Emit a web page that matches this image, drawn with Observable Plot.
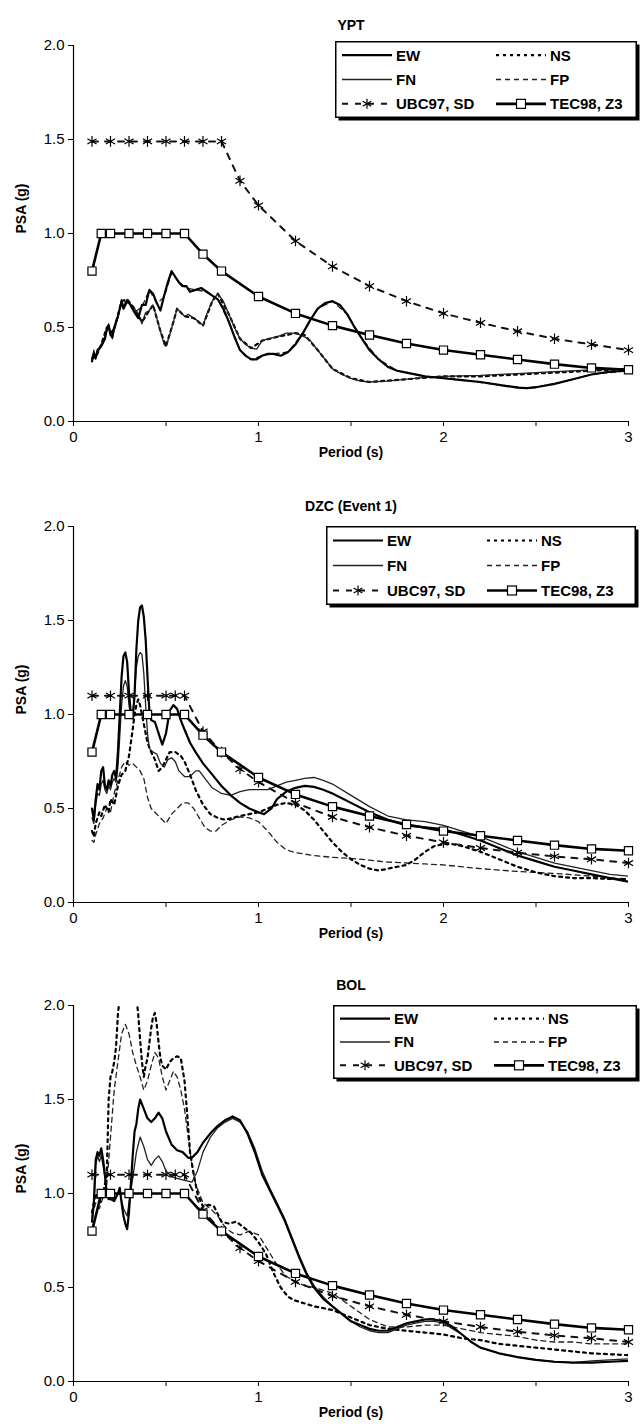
<!DOCTYPE html>
<html><head><meta charset="utf-8">
<script src="https://cdn.jsdelivr.net/npm/d3@7"></script>
<script src="https://cdn.jsdelivr.net/npm/@observablehq/plot@0.6"></script>
<style>
body{margin:0;background:#fff;font-family:"Liberation Sans",Arial,sans-serif;}
#wrap{position:relative;width:643px;height:1426px;overflow:hidden;background:#fff;}
.panel{position:absolute;left:0;}
.legend{position:absolute;}
</style></head><body><div id="wrap"></div>
<script>
// ---------- DATA: [period (s), PSA (g)] ----------
const TEC98_Z3 = [[0.1,0.80],[0.15,1.00],[0.2,1.00],[0.3,1.00],[0.4,1.00],[0.5,1.00],[0.6,1.00],[0.7,0.89],[0.8,0.80],[1.0,0.665],[1.2,0.575],[1.4,0.51],[1.6,0.46],[1.8,0.415],[2.0,0.38],[2.2,0.355],[2.4,0.33],[2.6,0.305],[2.8,0.285],[3.0,0.275]];
const UBC97_SD_YPT = [[0.1,1.49],[0.2,1.49],[0.3,1.49],[0.4,1.49],[0.5,1.49],[0.6,1.49],[0.7,1.49],[0.8,1.49],[0.9,1.28],[1.0,1.15],[1.2,0.96],[1.4,0.825],[1.6,0.72],[1.8,0.64],[2.0,0.575],[2.2,0.525],[2.4,0.48],[2.6,0.44],[2.8,0.41],[3.0,0.38]];
const UBC97_SD_DZC_BOL = [[0.1,1.10],[0.2,1.10],[0.3,1.10],[0.4,1.10],[0.5,1.10],[0.55,1.10],[0.6,1.10],[0.7,0.91],[0.8,0.80],[0.9,0.71],[1.0,0.64],[1.2,0.53],[1.4,0.455],[1.6,0.40],[1.8,0.355],[2.0,0.32],[2.2,0.29],[2.4,0.265],[2.6,0.245],[2.8,0.23],[3.0,0.21]];

const YPT_EW = [[0.10,0.32],[0.11,0.36],[0.12,0.34],[0.13,0.38],[0.15,0.40],[0.17,0.44],[0.18,0.49],[0.19,0.51],[0.20,0.46],[0.21,0.45],[0.22,0.50],[0.24,0.56],[0.26,0.64],[0.27,0.60],[0.29,0.64],[0.31,0.62],[0.33,0.58],[0.35,0.55],[0.37,0.62],[0.39,0.62],[0.41,0.70],[0.43,0.68],[0.45,0.63],[0.47,0.59],[0.49,0.67],[0.51,0.74],[0.53,0.80],[0.55,0.77],[0.57,0.74],[0.59,0.72],[0.61,0.72],[0.63,0.69],[0.66,0.70],[0.69,0.71],[0.72,0.69],[0.75,0.67],[0.78,0.65],[0.81,0.60],[0.84,0.53],[0.87,0.45],[0.90,0.38],[0.93,0.35],[0.96,0.33],[0.99,0.33],[1.02,0.35],[1.05,0.36],[1.08,0.36],[1.12,0.35],[1.16,0.37],[1.20,0.41],[1.24,0.47],[1.28,0.54],[1.32,0.60],[1.36,0.63],[1.40,0.64],[1.44,0.62],[1.48,0.57],[1.52,0.50],[1.56,0.44],[1.60,0.38],[1.65,0.33],[1.70,0.29],[1.75,0.27],[1.80,0.26],[1.90,0.24],[2.00,0.23],[2.10,0.22],[2.20,0.21],[2.30,0.195],[2.40,0.18],[2.45,0.178],[2.50,0.182],[2.60,0.20],[2.70,0.225],[2.80,0.25],[2.90,0.265],[3.00,0.27]];
const YPT_FP = [[0.10,0.33],[0.12,0.35],[0.15,0.40],[0.18,0.48],[0.20,0.47],[0.22,0.50],[0.26,0.63],[0.29,0.64],[0.33,0.58],[0.37,0.61],[0.41,0.70],[0.45,0.63],[0.49,0.66],[0.53,0.79],[0.57,0.74],[0.61,0.71],[0.66,0.70],[0.72,0.69],[0.78,0.65],[0.84,0.53],[0.90,0.38],[0.96,0.33],[1.02,0.35],[1.08,0.36],[1.16,0.37],[1.24,0.47],[1.32,0.60],[1.40,0.64],[1.48,0.57],[1.56,0.44],[1.65,0.33],[1.75,0.27],[1.90,0.24],[2.10,0.22],[2.30,0.195],[2.45,0.178],[2.60,0.20],[2.80,0.25],[3.00,0.27]];
const YPT_FN = [[0.10,0.33],[0.11,0.38],[0.12,0.33],[0.13,0.37],[0.15,0.41],[0.17,0.45],[0.18,0.50],[0.19,0.52],[0.20,0.47],[0.21,0.44],[0.22,0.49],[0.24,0.55],[0.26,0.65],[0.27,0.61],[0.29,0.65],[0.31,0.61],[0.33,0.60],[0.35,0.57],[0.37,0.52],[0.39,0.58],[0.41,0.59],[0.43,0.62],[0.45,0.55],[0.47,0.48],[0.49,0.41],[0.50,0.40],[0.52,0.46],[0.54,0.53],[0.56,0.60],[0.58,0.58],[0.60,0.56],[0.62,0.57],[0.65,0.55],[0.68,0.53],[0.70,0.51],[0.72,0.57],[0.75,0.64],[0.78,0.68],[0.81,0.64],[0.84,0.57],[0.87,0.50],[0.90,0.44],[0.93,0.41],[0.96,0.39],[0.99,0.385],[1.02,0.43],[1.05,0.44],[1.10,0.45],[1.15,0.47],[1.20,0.47],[1.25,0.45],[1.28,0.43],[1.32,0.38],[1.36,0.33],[1.40,0.28],[1.45,0.25],[1.50,0.23],[1.55,0.215],[1.60,0.21],[1.70,0.215],[1.80,0.225],[1.90,0.235],[2.00,0.24],[2.20,0.245],[2.40,0.255],[2.60,0.265],[2.80,0.275],[3.00,0.28]];
const YPT_NS = [[0.10,0.34],[0.12,0.34],[0.15,0.41],[0.18,0.50],[0.20,0.47],[0.22,0.49],[0.26,0.64],[0.29,0.65],[0.33,0.60],[0.37,0.53],[0.41,0.59],[0.43,0.62],[0.47,0.48],[0.50,0.40],[0.54,0.53],[0.56,0.60],[0.60,0.56],[0.65,0.55],[0.70,0.51],[0.75,0.64],[0.78,0.68],[0.84,0.57],[0.90,0.44],[0.96,0.39],[1.02,0.43],[1.10,0.45],[1.20,0.47],[1.25,0.46],[1.32,0.38],[1.40,0.28],[1.50,0.23],[1.60,0.21],[1.80,0.225],[2.00,0.24],[2.20,0.24],[2.40,0.25],[2.60,0.26],[2.80,0.27],[3.00,0.28]];

const DZC_EW = [[0.10,0.50],[0.11,0.44],[0.12,0.55],[0.13,0.63],[0.14,0.60],[0.15,0.70],[0.16,0.72],[0.17,0.62],[0.18,0.60],[0.19,0.65],[0.20,0.62],[0.21,0.68],[0.22,0.70],[0.23,0.66],[0.24,0.80],[0.25,1.00],[0.26,1.20],[0.27,1.31],[0.28,1.33],[0.29,1.28],[0.30,1.12],[0.31,1.00],[0.32,0.98],[0.33,1.10],[0.34,1.35],[0.35,1.50],[0.36,1.57],[0.37,1.58],[0.38,1.52],[0.39,1.40],[0.40,1.20],[0.41,1.02],[0.42,0.97],[0.44,0.96],[0.46,0.90],[0.48,0.84],[0.50,0.90],[0.52,1.02],[0.54,1.05],[0.56,1.03],[0.58,0.97],[0.60,0.92],[0.63,0.85],[0.66,0.80],[0.70,0.74],[0.75,0.68],[0.80,0.62],[0.85,0.57],[0.90,0.53],[0.95,0.50],[1.00,0.48],[1.03,0.47],[1.07,0.50],[1.10,0.55],[1.15,0.59],[1.20,0.61],[1.25,0.62],[1.30,0.615],[1.35,0.60],[1.40,0.58],[1.50,0.53],[1.60,0.48],[1.70,0.44],[1.80,0.41],[1.90,0.40],[2.00,0.39],[2.10,0.36],[2.20,0.33],[2.30,0.29],[2.40,0.25],[2.50,0.22],[2.60,0.19],[2.70,0.17],[2.80,0.15],[2.90,0.13],[3.00,0.11]];
const DZC_FN = [[0.10,0.45],[0.11,0.42],[0.12,0.52],[0.13,0.58],[0.14,0.57],[0.15,0.63],[0.16,0.65],[0.17,0.60],[0.18,0.58],[0.19,0.62],[0.20,0.60],[0.21,0.64],[0.22,0.66],[0.23,0.64],[0.24,0.72],[0.25,0.88],[0.26,1.05],[0.27,1.15],[0.28,1.18],[0.29,1.15],[0.30,1.05],[0.31,0.98],[0.32,1.00],[0.33,1.12],[0.34,1.25],[0.35,1.31],[0.36,1.33],[0.37,1.32],[0.38,1.22],[0.39,1.05],[0.40,0.90],[0.41,0.82],[0.43,0.80],[0.45,0.79],[0.47,0.74],[0.49,0.72],[0.51,0.76],[0.53,0.77],[0.55,0.75],[0.57,0.70],[0.60,0.67],[0.63,0.67],[0.66,0.70],[0.68,0.70],[0.71,0.66],[0.75,0.61],[0.80,0.58],[0.85,0.57],[0.90,0.59],[0.95,0.60],[1.00,0.60],[1.05,0.60],[1.10,0.62],[1.15,0.64],[1.20,0.65],[1.25,0.66],[1.30,0.665],[1.35,0.65],[1.40,0.63],[1.50,0.57],[1.60,0.51],[1.70,0.46],[1.80,0.44],[1.90,0.43],[2.00,0.41],[2.10,0.38],[2.20,0.35],[2.30,0.31],[2.40,0.27],[2.50,0.24],[2.60,0.21],[2.70,0.19],[2.80,0.17],[2.90,0.15],[3.00,0.14]];
const DZC_NS = [[0.10,0.38],[0.11,0.35],[0.12,0.42],[0.14,0.48],[0.15,0.46],[0.17,0.52],[0.19,0.48],[0.20,0.55],[0.22,0.52],[0.24,0.62],[0.26,0.68],[0.28,0.70],[0.30,0.78],[0.32,0.92],[0.33,1.00],[0.34,1.05],[0.35,1.08],[0.36,1.05],[0.38,0.95],[0.40,0.85],[0.42,0.80],[0.44,0.76],[0.46,0.70],[0.48,0.72],[0.50,0.76],[0.52,0.80],[0.55,0.80],[0.58,0.78],[0.60,0.75],[0.63,0.68],[0.66,0.60],[0.70,0.52],[0.74,0.47],[0.78,0.45],[0.82,0.44],[0.86,0.45],[0.90,0.46],[0.95,0.47],[1.00,0.48],[1.05,0.50],[1.10,0.52],[1.15,0.53],[1.20,0.52],[1.25,0.49],[1.30,0.44],[1.35,0.38],[1.40,0.32],[1.45,0.27],[1.50,0.23],[1.55,0.20],[1.60,0.18],[1.65,0.17],[1.70,0.18],[1.80,0.20],[1.85,0.23],[1.90,0.27],[1.95,0.30],[2.00,0.31],[2.05,0.31],[2.10,0.30],[2.20,0.27],[2.30,0.23],[2.40,0.19],[2.50,0.16],[2.60,0.14],[2.70,0.13],[2.80,0.13],[2.90,0.125],[3.00,0.125]];
const DZC_FP = [[0.10,0.33],[0.11,0.32],[0.12,0.36],[0.14,0.42],[0.16,0.45],[0.18,0.50],[0.20,0.48],[0.22,0.58],[0.24,0.65],[0.26,0.72],[0.28,0.75],[0.30,0.73],[0.32,0.74],[0.34,0.72],[0.36,0.70],[0.38,0.66],[0.40,0.56],[0.42,0.50],[0.44,0.48],[0.46,0.46],[0.48,0.44],[0.50,0.42],[0.53,0.47],[0.56,0.50],[0.59,0.53],[0.62,0.53],[0.65,0.50],[0.68,0.45],[0.71,0.40],[0.74,0.38],[0.77,0.38],[0.80,0.41],[0.85,0.44],[0.90,0.455],[0.95,0.45],[1.00,0.43],[1.05,0.38],[1.10,0.32],[1.15,0.28],[1.20,0.265],[1.30,0.25],[1.40,0.24],[1.50,0.235],[1.60,0.225],[1.70,0.215],[1.80,0.21],[1.90,0.205],[2.00,0.20],[2.20,0.18],[2.40,0.165],[2.60,0.155],[2.80,0.14],[3.00,0.125]];

const BOL_EW = [[0.10,0.85],[0.11,0.95],[0.12,1.18],[0.13,1.22],[0.14,1.20],[0.15,1.24],[0.16,1.18],[0.17,1.10],[0.18,1.00],[0.19,0.97],[0.20,0.97],[0.22,0.96],[0.24,1.00],[0.25,1.03],[0.26,0.95],[0.27,0.88],[0.28,0.84],[0.29,0.81],[0.30,0.90],[0.31,1.05],[0.32,1.20],[0.33,1.33],[0.34,1.37],[0.35,1.45],[0.36,1.50],[0.38,1.45],[0.40,1.40],[0.42,1.38],[0.44,1.40],[0.46,1.43],[0.48,1.40],[0.50,1.33],[0.53,1.26],[0.56,1.23],[0.59,1.22],[0.62,1.19],[0.64,1.19],[0.67,1.22],[0.70,1.27],[0.74,1.32],[0.78,1.36],[0.82,1.39],[0.86,1.41],[0.90,1.39],[0.94,1.32],[0.98,1.22],[1.02,1.10],[1.06,1.02],[1.10,0.94],[1.14,0.86],[1.18,0.76],[1.22,0.66],[1.26,0.57],[1.30,0.50],[1.35,0.44],[1.40,0.40],[1.45,0.36],[1.50,0.32],[1.55,0.30],[1.60,0.28],[1.65,0.27],[1.70,0.27],[1.75,0.29],[1.80,0.31],[1.85,0.32],[1.90,0.33],[1.95,0.33],[2.00,0.32],[2.05,0.29],[2.10,0.25],[2.15,0.21],[2.20,0.18],[2.30,0.15],[2.40,0.13],[2.50,0.115],[2.60,0.105],[2.70,0.10],[2.80,0.10],[2.90,0.105],[3.00,0.11]];
const BOL_FN = [[0.10,0.85],[0.11,0.93],[0.12,1.15],[0.13,1.20],[0.14,1.17],[0.15,1.20],[0.16,1.15],[0.17,1.08],[0.18,1.00],[0.20,0.98],[0.22,0.97],[0.24,1.00],[0.25,1.02],[0.26,0.96],[0.27,0.92],[0.28,0.90],[0.29,0.88],[0.30,0.95],[0.32,1.08],[0.34,1.22],[0.36,1.30],[0.38,1.25],[0.40,1.18],[0.42,1.15],[0.44,1.18],[0.46,1.20],[0.48,1.17],[0.50,1.12],[0.53,1.09],[0.56,1.08],[0.60,1.07],[0.64,1.06],[0.67,1.12],[0.70,1.22],[0.74,1.30],[0.78,1.35],[0.82,1.38],[0.86,1.40],[0.90,1.38],[0.94,1.33],[0.98,1.24],[1.02,1.12],[1.06,1.03],[1.10,0.95],[1.14,0.87],[1.18,0.77],[1.22,0.67],[1.26,0.58],[1.30,0.51],[1.35,0.45],[1.40,0.40],[1.45,0.36],[1.50,0.32],[1.55,0.29],[1.60,0.27],[1.65,0.26],[1.70,0.26],[1.75,0.28],[1.80,0.30],[1.85,0.31],[1.90,0.32],[1.95,0.32],[2.00,0.31],[2.05,0.28],[2.10,0.25],[2.15,0.21],[2.20,0.18],[2.30,0.15],[2.40,0.13],[2.50,0.115],[2.60,0.105],[2.70,0.10],[2.80,0.11],[2.90,0.115],[3.00,0.12]];
const BOL_NS = [[0.10,0.90],[0.12,1.00],[0.14,0.95],[0.16,1.00],[0.18,1.10],[0.19,1.50],[0.20,1.62],[0.21,1.65],[0.22,1.70],[0.23,1.78],[0.24,1.95],[0.25,2.05],[0.30,2.20],[0.34,2.05],[0.35,1.95],[0.36,1.82],[0.37,1.70],[0.38,1.62],[0.39,1.68],[0.40,1.72],[0.41,1.80],[0.42,1.88],[0.43,1.94],[0.44,1.96],[0.45,1.90],[0.46,1.80],[0.47,1.72],[0.48,1.68],[0.50,1.66],[0.52,1.70],[0.54,1.72],[0.56,1.73],[0.58,1.72],[0.60,1.60],[0.61,1.48],[0.62,1.35],[0.63,1.22],[0.65,1.10],[0.67,1.00],[0.70,0.93],[0.73,0.94],[0.76,0.93],[0.80,0.85],[0.84,0.84],[0.88,0.85],[0.92,0.82],[0.96,0.79],[1.00,0.74],[1.04,0.68],[1.08,0.58],[1.12,0.50],[1.16,0.45],[1.20,0.43],[1.30,0.40],[1.40,0.38],[1.50,0.34],[1.60,0.30],[1.70,0.28],[1.80,0.27],[1.90,0.26],[2.00,0.25],[2.10,0.23],[2.20,0.22],[2.30,0.20],[2.40,0.19],[2.50,0.18],[2.60,0.17],[2.70,0.16],[2.80,0.15],[2.90,0.145],[3.00,0.14]];
const BOL_FP = [[0.10,0.88],[0.12,0.95],[0.14,0.92],[0.16,0.98],[0.18,1.05],[0.20,1.30],[0.22,1.55],[0.24,1.70],[0.26,1.85],[0.28,1.90],[0.30,1.85],[0.32,1.75],[0.34,1.68],[0.36,1.62],[0.38,1.55],[0.40,1.60],[0.42,1.68],[0.44,1.75],[0.46,1.72],[0.48,1.62],[0.50,1.55],[0.52,1.60],[0.54,1.65],[0.56,1.62],[0.58,1.55],[0.60,1.45],[0.62,1.30],[0.64,1.15],[0.66,1.05],[0.70,0.95],[0.74,0.92],[0.78,0.88],[0.82,0.82],[0.86,0.79],[0.90,0.78],[0.95,0.80],[1.00,0.78],[1.05,0.70],[1.10,0.62],[1.15,0.56],[1.20,0.53],[1.25,0.51],[1.30,0.50],[1.40,0.47],[1.50,0.40],[1.60,0.33],[1.70,0.29],[1.80,0.29],[1.90,0.30],[2.00,0.30],[2.10,0.28],[2.20,0.26],[2.30,0.25],[2.40,0.24],[2.50,0.22],[2.60,0.21],[2.70,0.21],[2.80,0.20],[2.90,0.20],[3.00,0.20]];

const titles = ["YPT", "DZC (Event 1)", "BOL"];
const yTicks = [0, 0.5, 1.0, 1.5, 2.0];
const xTicks = [0, 0.5, 1, 1.5, 2, 2.5, 3];
const legendLabels = [["EW","NS"],["FN","FP"],["UBC97, SD","TEC98, Z3"]];

// ---------- LAYOUT / STYLE ----------
const FONT = "Liberation Sans, Arial, Helvetica, sans-serif";
const styles = {
  EW: {stroke:"#000", strokeWidth:2.2},
  FN: {stroke:"#222", strokeWidth:1.3},
  NS: {stroke:"#000", strokeWidth:2.2, strokeDasharray:"3,4"},
  FP: {stroke:"#222", strokeWidth:1.3, strokeDasharray:"5,4"},
  UBC: {stroke:"#111", strokeWidth:2, strokeDasharray:"6,7"},
  TEC: {stroke:"#000", strokeWidth:2.6}
};
const panels = [
  {title:titles[0], top:45, EW:YPT_EW, NS:YPT_NS, FN:YPT_FN, FP:YPT_FP, UBC:UBC97_SD_YPT, leg:{x:335,y:41,w:302,h:77}},
  {title:titles[1], top:526, EW:DZC_EW, NS:DZC_NS, FN:DZC_FN, FP:DZC_FP, UBC:UBC97_SD_DZC_BOL, leg:{x:326,y:526,w:310,h:79}},
  {title:titles[2], top:1005, EW:BOL_EW, NS:BOL_NS, FN:BOL_FN, FP:BOL_FP, UBC:UBC97_SD_DZC_BOL, leg:{x:333,y:1005,w:304,h:74}}
];

const wrap = document.getElementById("wrap");
const MT = 40, IH = 376, MB = 44;
const X = d => d[0], Y = d => d[1];

for (const p of panels) {
  const chart = Plot.plot({
    width: 643, height: MT + IH + MB,
    marginTop: MT, marginBottom: MB, marginLeft: 73, marginRight: 15,
    style: {fontFamily: FONT, fontSize: "14px", color: "#000", background: "transparent"},
    x: {domain: [0, 3]},
    y: {domain: [0, 2]},
    marks: [
      Plot.axisY({ticks: yTicks, tickFormat: d3.format(".1f"), tickSize: 5, tickPadding: 4, label: null, fontSize: 15}),
      Plot.axisX({ticks: xTicks, tickFormat: d => Number.isInteger(d) ? String(d) : "", tickSize: 5, tickPadding: 5, label: null, fontSize: 15}),
      Plot.ruleX([0], {stroke: "#000", strokeWidth: 1.2}),
      Plot.ruleY([0], {stroke: "#000", strokeWidth: 1.2}),
      Plot.text([p.title], {frameAnchor: "top", dy: -25, fontWeight: "bold", fontSize: 14}),
      Plot.text(["PSA (g)"], {frameAnchor: "left", dx: -52, rotate: -90, fontWeight: "bold", fontSize: 14}),
      Plot.text(["Period (s)"], {frameAnchor: "bottom", dy: 35, fontWeight: "bold", fontSize: 14}),
      Plot.line(p.FP, {x: X, y: Y, ...styles.FP, clip: true}),
      Plot.line(p.NS, {x: X, y: Y, ...styles.NS, clip: true}),
      Plot.line(p.FN, {x: X, y: Y, ...styles.FN, clip: true}),
      Plot.line(p.EW, {x: X, y: Y, ...styles.EW, clip: true}),
      Plot.line(p.UBC, {x: X, y: Y, ...styles.UBC}),
      Plot.dot(p.UBC, {x: X, y: Y, symbol: "asterisk", r: 5, stroke: "#000", strokeWidth: 1.2}),
      Plot.line(TEC98_Z3, {x: X, y: Y, ...styles.TEC}),
      Plot.dot(TEC98_Z3, {x: X, y: Y, symbol: "square", r: 4.6, fill: "#fff", stroke: "#000", strokeWidth: 1.2})
    ]
  });
  chart.classList.add("panel");
  chart.style.top = (p.top - MT) + "px";
  wrap.appendChild(chart);

  // legend box (drawn with d3, not data)
  const L = p.leg;
  const svg = d3.create("svg").attr("class", "legend")
    .attr("width", L.w + 6).attr("height", L.h + 6)
    .style("left", L.x + "px").style("top", L.y + "px")
    .style("font-family", FONT);
  svg.append("rect").attr("x", 3.5).attr("y", 3.5).attr("width", L.w - 1).attr("height", L.h - 1).attr("fill", "#000");
  svg.append("rect").attr("x", 0.75).attr("y", 0.75).attr("width", L.w - 1.5).attr("height", L.h - 1.5)
    .attr("fill", "#fff").attr("stroke", "#000").attr("stroke-width", 1.5);
  const keys = [["EW","NS"],["FN","FP"],["UBC","TEC"]];
  const rowH = (L.h - 4) / 3;
  keys.forEach((row, ri) => {
    const y = 2 + rowH * (ri + 0.5);
    row.forEach((k, ci) => {
      const x0 = ci === 0 ? 7 : 161, x1 = x0 + 50;
      const s = styles[k];
      svg.append("line").attr("x1", x0).attr("x2", x1).attr("y1", y).attr("y2", y)
        .attr("stroke", s.stroke).attr("stroke-width", s.strokeWidth)
        .attr("stroke-dasharray", s.strokeDasharray || null);
      const xm = (x0 + x1) / 2;
      if (k === "UBC") {
        const r = 5;
        const g = svg.append("g").attr("transform", `translate(${xm},${y})`).attr("stroke", "#000").attr("stroke-width", 1.2);
        [0, 60, 120].forEach(a => {
          const rad = a * Math.PI / 180;
          g.append("line").attr("x1", -r * Math.sin(rad)).attr("y1", -r * Math.cos(rad)).attr("x2", r * Math.sin(rad)).attr("y2", r * Math.cos(rad));
        });
      }
      if (k === "TEC") {
        svg.append("rect").attr("x", xm - 4.5).attr("y", y - 4.5).attr("width", 9).attr("height", 9)
          .attr("fill", "#fff").attr("stroke", "#000").attr("stroke-width", 1.2);
      }
      svg.append("text").attr("x", x1 + 4).attr("y", y).attr("dy", "0.36em")
        .attr("font-size", 15).attr("font-weight", "bold").text(legendLabels[ri][ci]);
    });
  });
  wrap.appendChild(svg.node());
}
</script></body></html>
